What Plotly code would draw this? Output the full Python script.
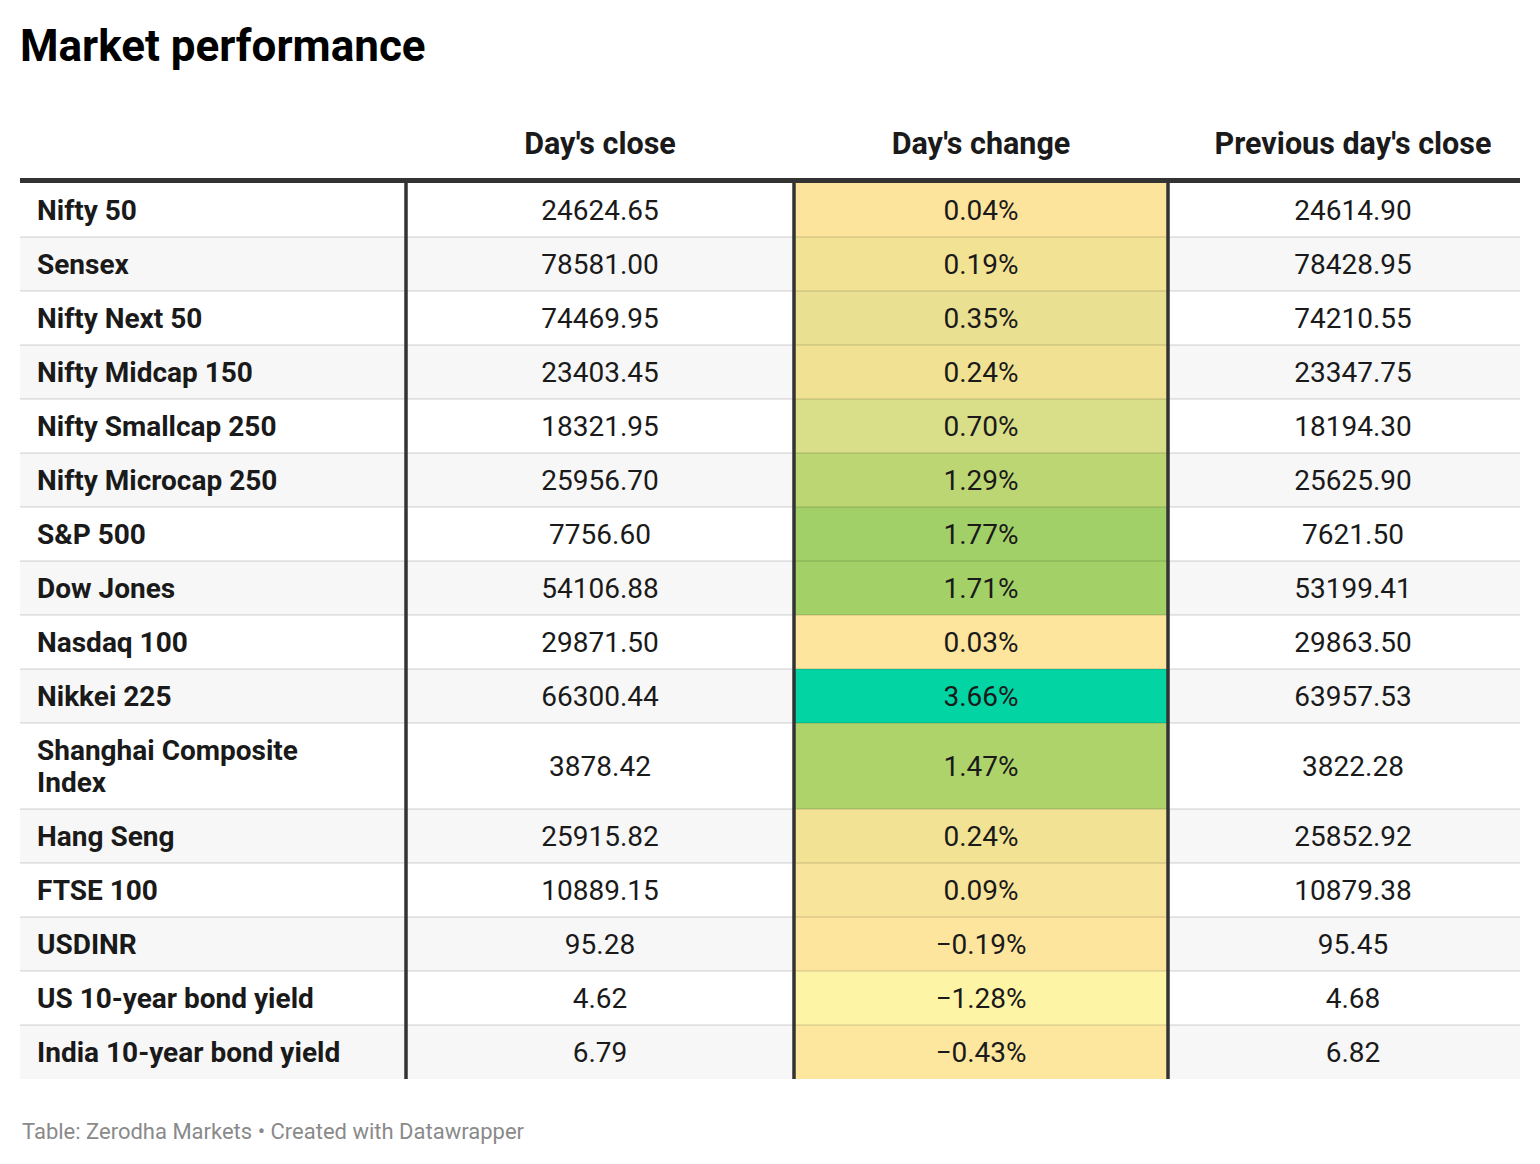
import plotly.graph_objects as go

# ---------------- data ----------------
names = ["Nifty 50", "Sensex", "Nifty Next 50", "Nifty Midcap 150", "Nifty Smallcap 250",
         "Nifty Microcap 250", "S&P 500", "Dow Jones", "Nasdaq 100", "Nikkei 225",
         "Shanghai Composite<br>Index", "Hang Seng", "FTSE 100", "USDINR",
         "US 10-year bond yield", "India 10-year bond yield"]
days_close = [24624.65, 78581.00, 74469.95, 23403.45, 18321.95, 25956.70, 7756.60, 54106.88,
              29871.50, 66300.44, 3878.42, 25915.82, 10889.15, 95.28, 4.62, 6.79]
days_change = [0.04, 0.19, 0.35, 0.24, 0.70, 1.29, 1.77, 1.71, 0.03, 3.66, 1.47, 0.24, 0.09,
               -0.19, -1.28, -0.43]
prev_close = [24614.90, 78428.95, 74210.55, 23347.75, 18194.30, 25625.90, 7621.50, 53199.41,
              29863.50, 63957.53, 3822.28, 25852.92, 10879.38, 95.45, 4.68, 6.82]
change_colors = ["#fde49c", "#f2e294", "#eae091", "#f1e293", "#d9de88", "#bcd673", "#a2d068",
                 "#a4d068", "#fde59d", "#03d4a4", "#afd36b", "#f1e294", "#f9e49b", "#fde59e",
                 "#fef4a6", "#fde79f"]
headers = ["Day's close", "Day's change", "Previous day's close"]
title = "Market performance"
footer = "Table: Zerodha Markets • Created with Datawrapper"

# ---------------- layout constants (pixels) ----------------
W, H = 1540, 1164
col_edges = [20, 406, 794, 1168, 1520]
col_text_x = [37, 600, 981, 1353]
table_top = 183
base_row_h = 54
extra_line_h = 32
line_gap = 32
text_dy = 3
header_y = 146
header_line_y = 180.5

row_heights = [base_row_h + extra_line_h * n.count("<br>") for n in names]
row_tops = []
acc = table_top
for h in row_heights:
    row_tops.append(acc)
    acc += h
table_bottom = acc
row_centers = [t + h / 2 for t, h in zip(row_tops, row_heights)]


def fmt_num(v):
    return f"{v:.2f}"


def fmt_pct(v):
    s = f"{abs(v):.2f}%"
    return ("\u2212" + s) if v < 0 else s


fig = go.Figure()

# alternating row backgrounds
fig.add_trace(go.Bar(
    orientation="h", y=row_centers, width=row_heights,
    base=[col_edges[0]] * len(names), x=[col_edges[-1] - col_edges[0]] * len(names),
    marker=dict(color=["#ffffff" if i % 2 == 0 else "#f7f7f7" for i in range(len(names))],
                line=dict(width=0)),
    hoverinfo="skip", showlegend=False))

# day's change coloured cells
fig.add_trace(go.Bar(
    orientation="h", y=row_centers, width=row_heights,
    base=[col_edges[2]] * len(names), x=[col_edges[3] - col_edges[2]] * len(names),
    marker=dict(color=change_colors, line=dict(width=0)),
    hoverinfo="skip", showlegend=False))

body_font = dict(family="Roboto", size=28, color="#1a1a1a")
bold_font = dict(family="Roboto", size=28, color="#1a1a1a", weight=700)

# row labels (multi-line labels split into separate lines with tighter spacing)
lab_x, lab_y, lab_t = [], [], []
for n, c in zip(names, row_centers):
    parts = n.split("<br>")
    first = c - line_gap * (len(parts) - 1) / 2
    for k, p in enumerate(parts):
        lab_x.append(col_text_x[0])
        lab_y.append(first + k * line_gap + text_dy)
        lab_t.append(p)
fig.add_trace(go.Scatter(
    x=lab_x, y=lab_y, text=lab_t, mode="text",
    textposition="middle right", textfont=bold_font, hoverinfo="skip", showlegend=False))

for ci, vals in enumerate([[fmt_num(v) for v in days_close],
                           [fmt_pct(v) for v in days_change],
                           [fmt_num(v) for v in prev_close]]):
    fig.add_trace(go.Scatter(
        x=[col_text_x[ci + 1]] * len(names), y=[c + text_dy for c in row_centers],
        text=vals, mode="text",
        textposition="middle center", textfont=body_font, hoverinfo="skip", showlegend=False))

# headers
fig.add_trace(go.Scatter(
    x=col_text_x[1:], y=[header_y] * 3, text=headers, mode="text",
    textposition="middle center",
    textfont=dict(family="Roboto", size=30.5, color="#1a1a1a", weight=700),
    hoverinfo="skip", showlegend=False))

shapes = []
# row separators
for t in row_tops[1:]:
    shapes.append(dict(type="line", xref="x", yref="y", x0=col_edges[0], x1=col_edges[-1],
                       y0=t, y1=t, line=dict(color="rgba(0,0,0,0.09)", width=2), layer="above"))
# vertical column lines
for xe in col_edges[1:4]:
    shapes.append(dict(type="line", xref="x", yref="y", x0=xe, x1=xe, y0=table_top,
                       y1=table_bottom, line=dict(color="#333333", width=3.5), layer="above"))
# header line
shapes.append(dict(type="line", xref="x", yref="y", x0=col_edges[0], x1=col_edges[-1],
                   y0=header_line_y, y1=header_line_y, line=dict(color="#333333", width=5),
                   layer="above"))

annotations = [
    dict(x=18, y=46, xref="x", yref="y", text=f"<b>{title}</b>", showarrow=False,
         xanchor="left", yanchor="middle", font=dict(family="Roboto", size=44, color="#000000")),
    dict(x=20, y=1131, xref="x", yref="y", text=footer, showarrow=False,
         xanchor="left", yanchor="middle", font=dict(family="Roboto", size=22, color="#8a8a8a")),
]

fig.update_layout(
    width=W, height=H, margin=dict(l=0, r=0, t=0, b=0),
    paper_bgcolor="#ffffff", plot_bgcolor="#ffffff",
    barmode="overlay", shapes=shapes, annotations=annotations,
    xaxis=dict(range=[0, W], visible=False, fixedrange=True),
    yaxis=dict(range=[H, 0], visible=False, fixedrange=True),
)

fig.write_html("out.html", config={"displayModeBar": False},
               post_script="document.body.style.margin='0';document.body.style.overflow='hidden';")
